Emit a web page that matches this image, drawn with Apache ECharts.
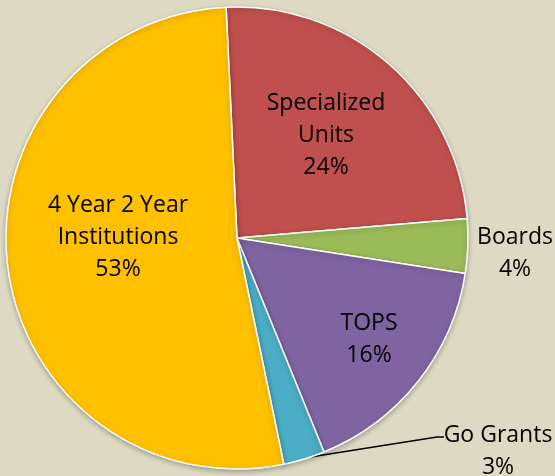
<!DOCTYPE html>
<html>
<head>
<meta charset="utf-8">
<script src="https://cdn.jsdelivr.net/npm/echarts@6/dist/echarts.min.js"></script>
<style>
  html, body { margin: 0; padding: 0; background: #DDD9C3; }
  #chartPie { width: 555px; height: 476px; }
</style>
</head>
<body>
<div id="chartPie"></div>
<script>
    // slice names and shares (in %)
    var pieNames = ['Specialized\nUnits', 'Boards', 'TOPS', 'Go Grants', '4 Year 2 Year\nInstitutions'];
    var pieValues = [24.4, 3.8, 16.4, 2.9, 52.5];
    var pieColors = ['#C0504D', '#9BBB59', '#8064A2', '#4BACC6', '#FFC000'];

    var cx = 237, cy = 238, r = 231;
    // label spots, relative to the pie centre
    var labelOffsets = [[89, -103], [278, 15], [132, 101], [261, 213], [-119, -1]];

    var pieData = [];
    pieNames.forEach((name, i) => {
        pieData.push({
            name: name,
            value: pieValues[i],
            itemStyle: { color: pieColors[i] },
            label: { position: (i == 1 || i == 3) ? 'outside' : 'inside' },
            labelLine: { show: i == 3 }
        });
    });

    var pieOption = {
      backgroundColor: '#DDD9C3',
      animation: false,
      series: [
        {
          type: 'pie',
          center: [cx, cy],
          radius: r,
          startAngle: 92.7,
          clockwise: true,
          percentPrecision: 0,
          data: pieData,
          itemStyle: {
            borderColor: '#ffffff',
            borderWidth: 1.5,
            shadowBlur: 5,
            shadowOffsetY: 2,
            shadowColor: 'rgba(0, 0, 0, 0.25)'
          },
          label: {
            formatter: '{b}\n{d}%',
            fontFamily: 'Open Sans',
            fontSize: 23,
            lineHeight: 32,
            color: '#000',
            align: 'center',
            overflow: 'none'
          },
          labelLine: {
            lineStyle: { color: '#000', width: 1.5 },
            smooth: false
          },
          labelLayout: function (params) {
            var o = labelOffsets[params.dataIndex];
            var res = {
              x: cx + o[0],
              y: cy + o[1],
              align: 'center',
              verticalAlign: 'middle'
            };
            if (params.dataIndex == 3) {
              res.labelLinePoints = [[cx + 67, cy + 220], [cx + 200, cy + 199], [cx + 207, cy + 199]];
            }
            return res;
          }
        }
      ]
    };

    var myChartPie = echarts.init(document.getElementById('chartPie'));
    pieOption && myChartPie.setOption(pieOption, true);
</script>
</body>
</html>
